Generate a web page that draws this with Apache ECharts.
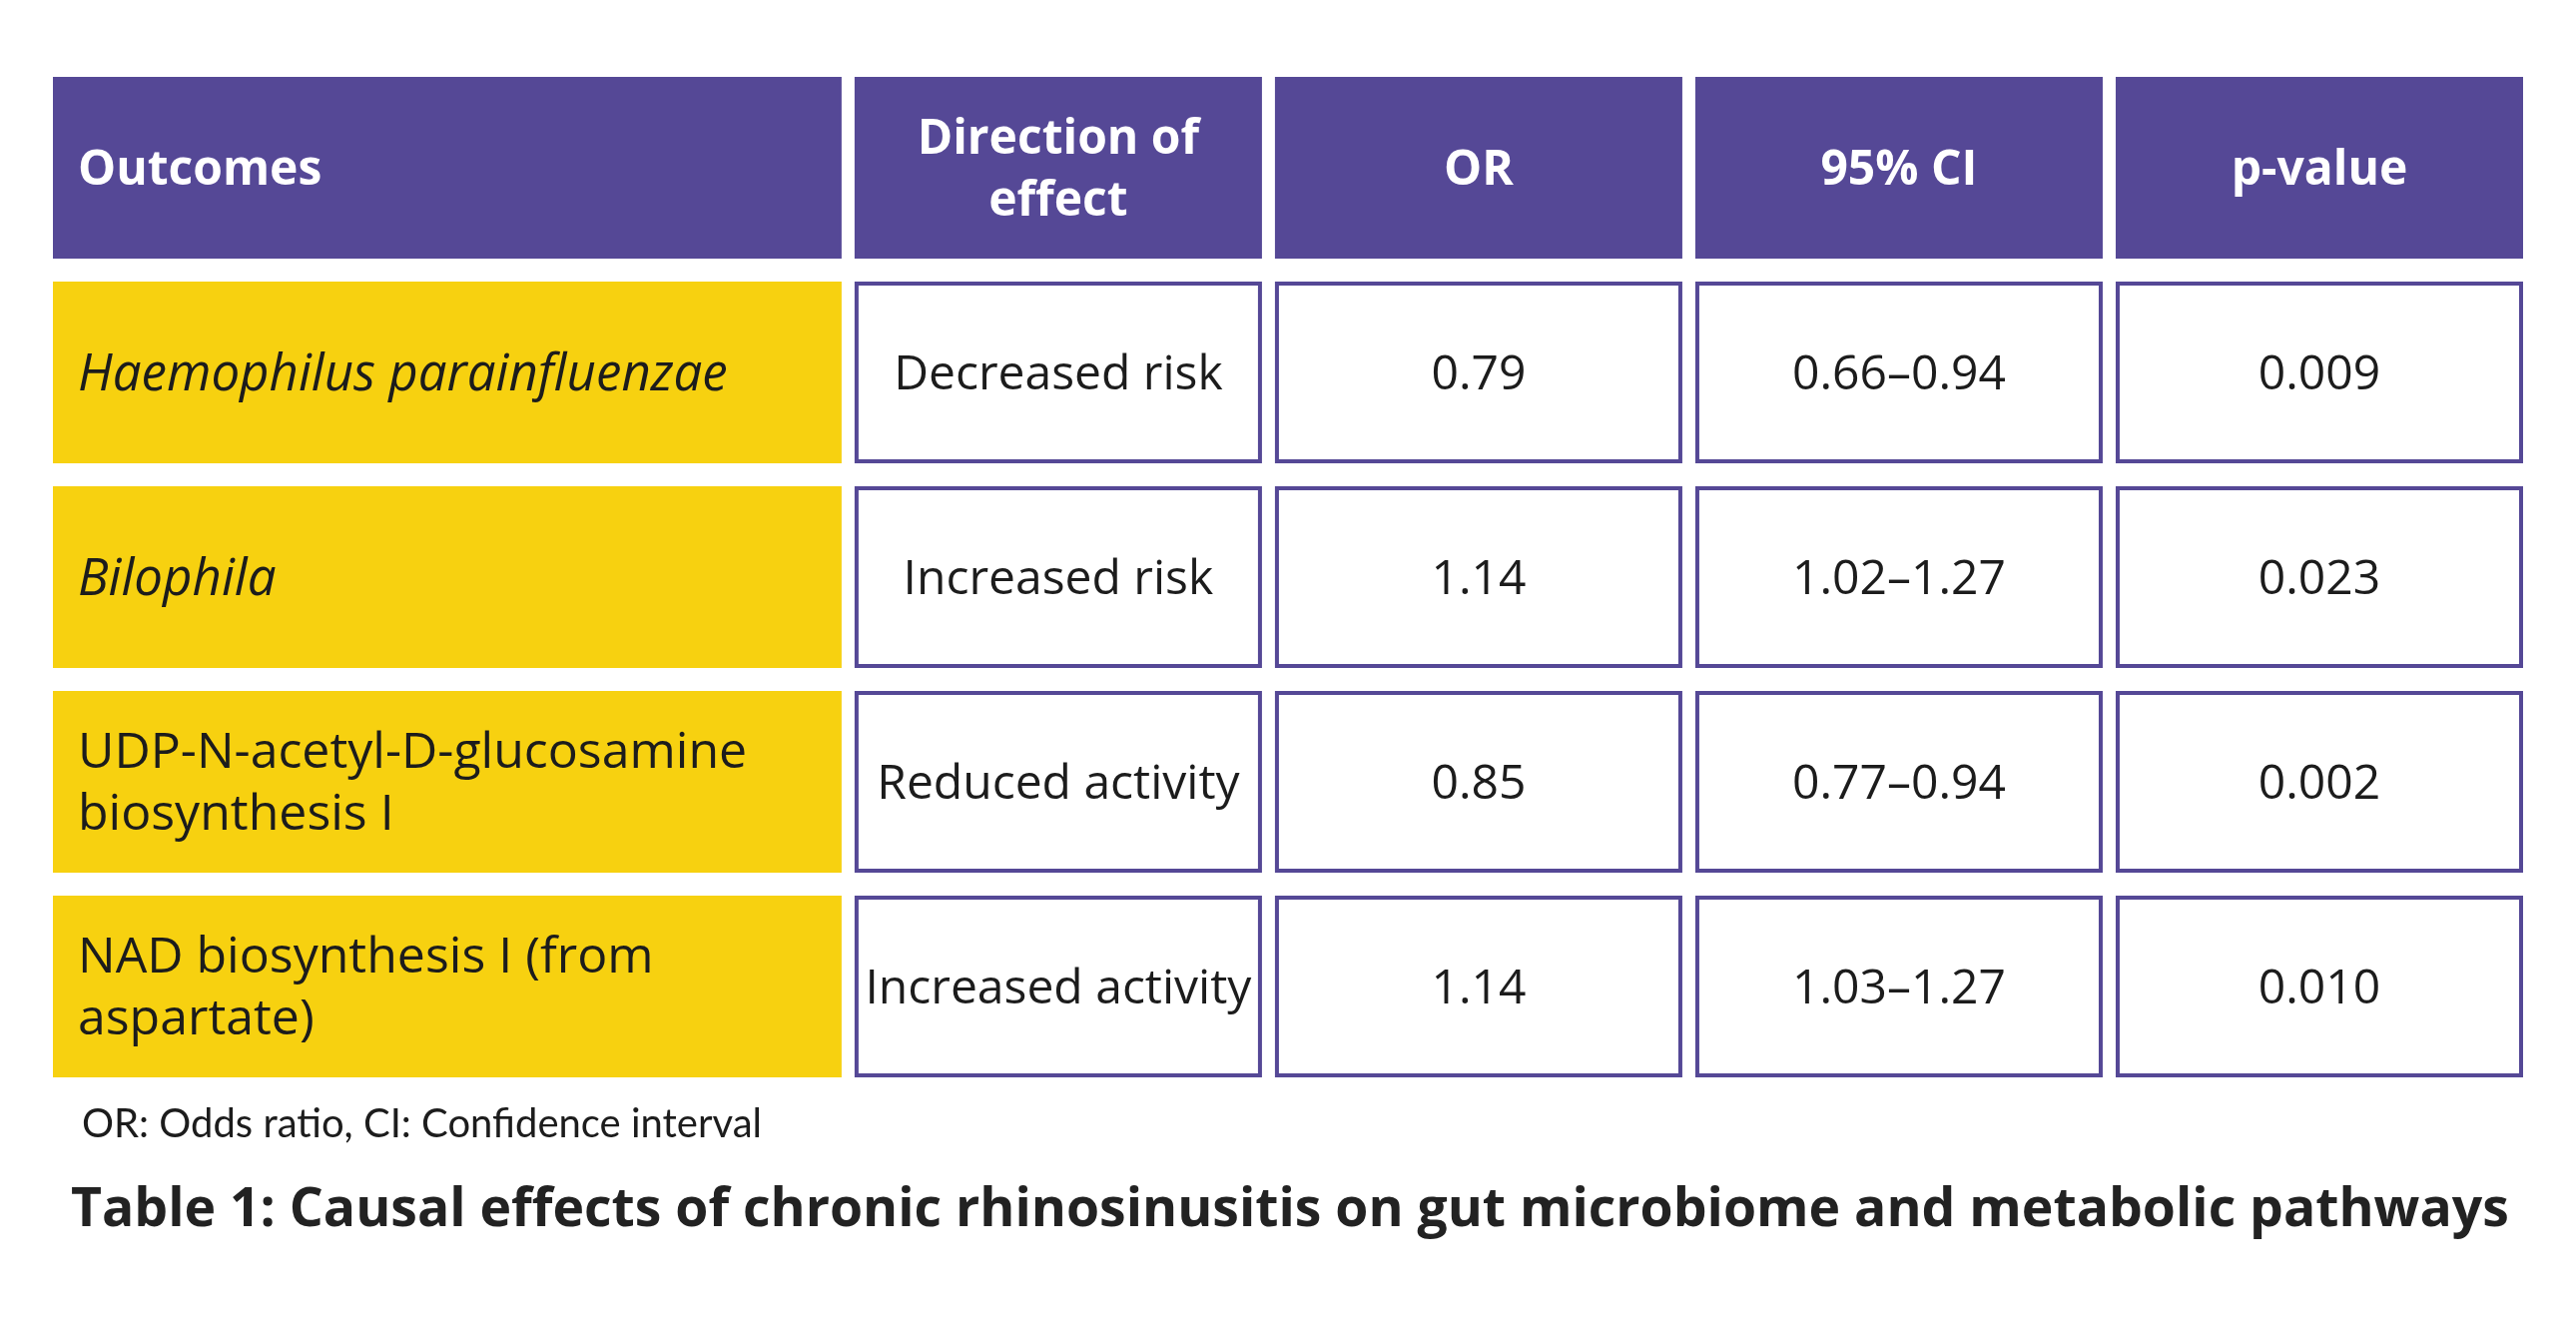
<!DOCTYPE html>
<html>
<head>
<meta charset="utf-8">
<script src="https://cdn.jsdelivr.net/npm/echarts@6/dist/echarts.min.js"></script>
<style>
html,body{margin:0;padding:0;background:#fff;}
#chart{width:2580px;height:1319px;}
</style>
</head>
<body>
<div id="chart"></div>
<script>
// ---- data ----
const columns = ['Outcomes', 'Direction of\neffect', 'OR', '95% CI', 'p-value'];
const outcomes = [
  'Haemophilus parainfluenzae',
  'Bilophila',
  'UDP-N-acetyl-D-glucosamine\nbiosynthesis I',
  'NAD biosynthesis I (from\naspartate)'
];
const italicOutcome = [true, true, false, false];
const directions = ['Decreased risk', 'Increased risk', 'Reduced activity', 'Increased activity'];
const orValues = ['0.79', '1.14', '0.85', '1.14'];
const ciLow = ['0.66', '1.02', '0.77', '1.03'];
const ciHigh = ['0.94', '1.27', '0.94', '1.27'];
const pValues = ['0.009', '0.023', '0.002', '0.010'];
const footnote = 'OR: Odds ratio, CI: Confidence interval';
const caption = 'Table 1: Causal effects of chronic rhinosinusitis on gut microbiome and metabolic pathways';
const rowKeys = ['header', 'r1', 'r2', 'r3', 'r4'];

// ---- layout ----
const colSpan = [1.907, 1, 1, 1, 1];
const colStart = [];
let acc = 0;
colSpan.forEach(s => { colStart.push(acc); acc += s; });
const totalSpan = acc;
const GAP_X = 13, CELL_H = 182;
const PURPLE = '#554896', YELLOW = '#F7D110', INK = '#1c1c1c';
const FONT = '"Open Sans", Lato, sans-serif';
const FONT2 = 'Lato, "Open Sans", sans-serif';

// build cell table
const cells = [];
columns.forEach((c, ci) => cells.push([colStart[ci], 0, ci, c]));
outcomes.forEach((o, ri) => {
  const vals = [o, directions[ri], orValues[ri], ciLow[ri] + '–' + ciHigh[ri], pValues[ri]];
  vals.forEach((v, ci) => cells.push([colStart[ci], ri + 1, ci, v]));
});

const chart = echarts.init(document.getElementById('chart'), null, {renderer: 'canvas'});
chart.setOption({
  backgroundColor: '#fff',
  animation: false,
  title: [
    {text: footnote, left: 77, top: 1101,
     textStyle: {fontFamily: FONT2, fontSize: 40, fontWeight: 'normal', color: INK}},
    {text: caption, left: 66, top: 1181,
     textStyle: {fontFamily: FONT, fontSize: 53.5, fontWeight: 'bold', color: '#222'}}
  ],
  grid: {left: 53, top: 77, width: 2487, height: 1025},
  xAxis: {type: 'value', min: 0, max: totalSpan, show: false},
  yAxis: {type: 'category', data: rowKeys, inverse: true, show: false},
  series: [{
    type: 'custom',
    encode: {x: 0, y: 1},
    data: cells,
    renderItem: function (params, api) {
      const xs = api.value(0), row = api.value(1), col = api.value(2);
      const text = cells[params.dataIndex][3];
      const p = api.coord([xs, row]);
      const band = api.size([0, 1])[1];
      const w = api.size([colSpan[col], 0])[0] - GAP_X;
      const x = p[0], y = p[1] - band / 2;
      const children = [];
      let fill, stroke = null, color = INK, weight = 'normal', style = 'normal';
      if (row === 0) { fill = PURPLE; color = '#fff'; weight = 'bold'; }
      else if (col === 0) { fill = YELLOW; if (italicOutcome[row - 1]) style = 'italic'; }
      else { fill = '#fff'; stroke = PURPLE; }
      if (stroke) {
        children.push({type: 'rect', shape: {x: x + 2, y: y + 2, width: w - 4, height: CELL_H - 4},
          style: {fill: fill, stroke: stroke, lineWidth: 4}});
      } else {
        children.push({type: 'rect', shape: {x: x, y: y, width: w, height: CELL_H}, style: {fill: fill}});
      }
      const left = col === 0;
      let size = 48;
      if (row > 0 && col === 0) size = italicOutcome[row - 1] ? 51 : 50;
      children.push({type: 'text',
        style: {text: text, x: left ? x + 25 : x + w / 2, y: y + CELL_H / 2 + 3,
          align: left ? 'left' : 'center', verticalAlign: 'middle',
          fontFamily: FONT, fontSize: size, fontWeight: weight, fontStyle: style,
          lineHeight: 62, fill: color}});
      return {type: 'group', children: children};
    }
  }]
});
</script>
</body>
</html>
